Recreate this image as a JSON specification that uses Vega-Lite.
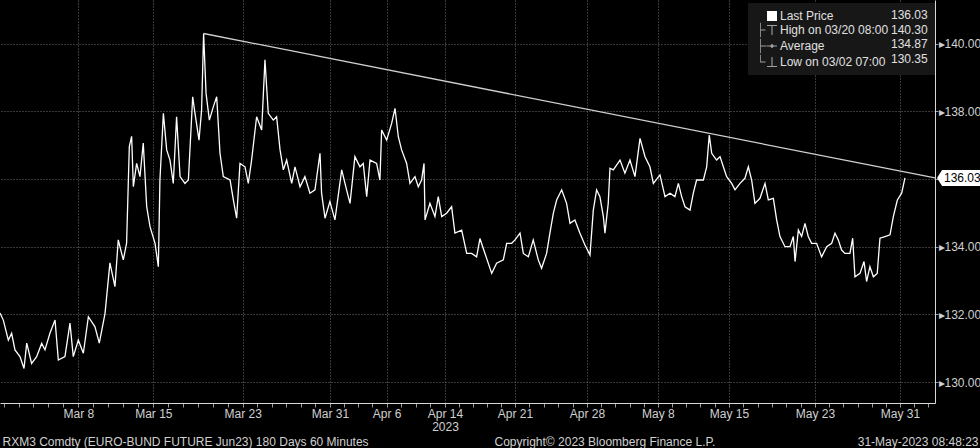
{
  "$schema": "https://vega.github.io/schema/vega-lite/v6.json",
  "width": 935,
  "height": 403,
  "autosize": {"type": "none"},
  "padding": {"left": 0, "top": 0, "right": 45, "bottom": 45},
  "background": "#000000",
  "config": {
    "view": {"stroke": null},
    "font": "Liberation Sans",
    "axis": {
      "labelFont": "Liberation Sans",
      "titleFont": "Liberation Sans",
      "titleFontWeight": "normal",
      "titleFontSize": 12,
      "titleColor": "#d0d0d0",
      "labelColor": "#d0d0d0",
      "labelFontSize": 12,
      "domainColor": "#d8d8d8",
      "tickColor": "#9a9a9a",
      "gridColor": "#707070",
      "gridDash": [1, 2]
    }
  },
  "datasets": {
    "price": [
      {"t":0,"v":132.04},{"t":0.23,"v":131.83},{"t":0.58,"v":131.24},{"t":0.81,"v":131.44},{"t":1.04,"v":130.95},
      {"t":1.39,"v":130.75},{"t":1.67,"v":130.4},{"t":1.86,"v":131.15},{"t":2.2,"v":130.55},{"t":2.55,"v":130.75},
      {"t":2.9,"v":131.14},{"t":3.13,"v":130.95},{"t":3.48,"v":131.45},{"t":3.83,"v":131.83},{"t":4.06,"v":130.65},
      {"t":4.52,"v":130.75},{"t":4.87,"v":131.74},{"t":5.1,"v":130.75},{"t":5.45,"v":131.24},{"t":5.8,"v":130.85},
      {"t":6.15,"v":131.93},{"t":6.61,"v":131.63},{"t":6.91,"v":131.15},{"t":7.31,"v":132.03},{"t":7.65,"v":133.52},
      {"t":8.0,"v":132.82},{"t":8.23,"v":134.2},{"t":8.58,"v":133.61},{"t":8.81,"v":134.1},{"t":9.0,"v":136.96},
      {"t":9.16,"v":137.26},{"t":9.28,"v":135.77},{"t":9.51,"v":136.46},{"t":9.74,"v":136.07},{"t":9.97,"v":137.06},
      {"t":10.21,"v":135.18},{"t":10.44,"v":134.59},{"t":10.79,"v":134.1},{"t":11.02,"v":133.41},{"t":11.13,"v":135.97},
      {"t":11.37,"v":137.94},{"t":11.6,"v":136.86},{"t":11.83,"v":136.56},{"t":12.06,"v":135.87},{"t":12.29,"v":137.84},
      {"t":12.53,"v":136.07},{"t":12.87,"v":135.87},{"t":13.11,"v":135.97},{"t":13.41,"v":138.43},{"t":13.57,"v":137.94},
      {"t":13.85,"v":137.15},{"t":14.03,"v":138.04},{"t":14.17,"v":140.3},{"t":14.34,"v":138.53},{"t":14.57,"v":137.74},
      {"t":14.85,"v":138.14},{"t":15.08,"v":138.43},{"t":15.31,"v":136.76},{"t":15.54,"v":136.07},{"t":16.01,"v":135.97},
      {"t":16.24,"v":135.38},{"t":16.47,"v":134.84},{"t":16.7,"v":136.46},{"t":17.05,"v":136.36},{"t":17.28,"v":135.87},
      {"t":17.51,"v":136.56},{"t":17.86,"v":137.84},{"t":18.21,"v":137.45},{"t":18.44,"v":139.52},{"t":18.67,"v":137.94},
      {"t":19.02,"v":137.74},{"t":19.25,"v":137.84},{"t":19.49,"v":136.86},{"t":19.72,"v":136.27},{"t":19.95,"v":136.56},
      {"t":20.3,"v":135.87},{"t":20.53,"v":136.36},{"t":20.88,"v":135.77},{"t":21.22,"v":136.07},{"t":21.57,"v":135.58},
      {"t":21.92,"v":135.68},{"t":22.27,"v":136.76},{"t":22.38,"v":135.58},{"t":22.62,"v":134.84},{"t":22.96,"v":135.33},
      {"t":23.31,"v":134.79},{"t":23.78,"v":136.27},{"t":24.12,"v":135.68},{"t":24.36,"v":135.28},{"t":24.7,"v":136.66},
      {"t":25.05,"v":136.36},{"t":25.28,"v":136.46},{"t":25.52,"v":135.48},{"t":25.75,"v":136.56},{"t":26.21,"v":136.46},
      {"t":26.44,"v":135.97},{"t":26.56,"v":137.45},{"t":26.91,"v":137.15},{"t":27.26,"v":137.65},{"t":27.49,"v":138.09},
      {"t":27.72,"v":137.25},{"t":27.95,"v":136.86},{"t":28.3,"v":136.46},{"t":28.53,"v":135.87},{"t":28.88,"v":136.07},
      {"t":29.11,"v":135.77},{"t":29.34,"v":135.97},{"t":29.51,"v":136.46},{"t":29.58,"v":134.79},{"t":29.92,"v":135.28},
      {"t":30.27,"v":134.89},{"t":30.5,"v":135.48},{"t":30.74,"v":134.89},{"t":31.08,"v":134.99},{"t":31.43,"v":135.18},
      {"t":31.66,"v":134.4},{"t":32.13,"v":134.49},{"t":32.48,"v":133.8},{"t":32.82,"v":133.8},{"t":33.17,"v":133.7},
      {"t":33.4,"v":134.24},{"t":33.75,"v":133.8},{"t":34.22,"v":133.21},{"t":34.56,"v":133.51},{"t":35.03,"v":133.61},
      {"t":35.26,"v":134.1},{"t":35.61,"v":134.1},{"t":35.84,"v":134.2},{"t":36.19,"v":134.4},{"t":36.42,"v":133.8},
      {"t":36.77,"v":133.7},{"t":37.11,"v":134.2},{"t":37.46,"v":133.61},{"t":37.69,"v":133.36},{"t":38.04,"v":133.8},
      {"t":38.27,"v":134.4},{"t":38.51,"v":134.99},{"t":38.74,"v":135.38},{"t":39.09,"v":135.68},{"t":39.43,"v":135.28},
      {"t":39.67,"v":134.69},{"t":40.01,"v":134.79},{"t":40.36,"v":134.4},{"t":40.71,"v":134.05},{"t":41.06,"v":133.75},
      {"t":41.29,"v":135.08},{"t":41.52,"v":135.68},{"t":41.75,"v":135.48},{"t":41.99,"v":134.89},{"t":42.1,"v":134.4},
      {"t":42.33,"v":135.28},{"t":42.45,"v":136.32},{"t":42.68,"v":136.27},{"t":43.15,"v":136.56},{"t":43.49,"v":136.17},
      {"t":43.84,"v":136.56},{"t":44.19,"v":136.07},{"t":44.54,"v":137.2},{"t":44.89,"v":136.66},{"t":45.23,"v":136.36},
      {"t":45.47,"v":135.87},{"t":45.93,"v":136.12},{"t":46.28,"v":135.48},{"t":46.63,"v":135.58},{"t":46.97,"v":135.48},
      {"t":47.21,"v":135.87},{"t":47.44,"v":135.48},{"t":47.67,"v":135.18},{"t":48.02,"v":135.08},{"t":48.25,"v":135.58},
      {"t":48.48,"v":135.97},{"t":48.95,"v":135.97},{"t":49.18,"v":136.36},{"t":49.36,"v":137.3},{"t":49.53,"v":136.76},
      {"t":49.87,"v":136.56},{"t":50.11,"v":136.66},{"t":50.34,"v":136.36},{"t":50.57,"v":136.07},{"t":50.92,"v":135.87},
      {"t":51.15,"v":135.68},{"t":51.5,"v":135.87},{"t":51.84,"v":136.02},{"t":52.08,"v":136.36},{"t":52.31,"v":135.97},
      {"t":52.54,"v":135.28},{"t":52.89,"v":135.43},{"t":53.24,"v":135.87},{"t":53.47,"v":135.38},{"t":53.82,"v":135.43},
      {"t":54.05,"v":134.79},{"t":54.28,"v":134.3},{"t":54.63,"v":134.0},{"t":54.98,"v":134.0},{"t":55.21,"v":134.3},
      {"t":55.33,"v":133.56},{"t":55.56,"v":134.49},{"t":55.79,"v":134.3},{"t":56.02,"v":134.69},{"t":56.25,"v":134.3},
      {"t":56.48,"v":134.1},{"t":56.83,"v":134.1},{"t":57.18,"v":133.7},{"t":57.53,"v":134.0},{"t":57.88,"v":134.1},
      {"t":58.11,"v":134.4},{"t":58.34,"v":134.2},{"t":58.57,"v":133.9},{"t":58.8,"v":133.8},{"t":59.15,"v":133.8},
      {"t":59.34,"v":134.25},{"t":59.5,"v":133.11},{"t":59.85,"v":133.21},{"t":60.13,"v":133.56},{"t":60.31,"v":132.97},
      {"t":60.54,"v":133.41},{"t":60.78,"v":133.11},{"t":61.05,"v":133.21},{"t":61.24,"v":134.25},{"t":61.59,"v":134.3},
      {"t":61.94,"v":134.35},{"t":62.17,"v":134.89},{"t":62.45,"v":135.38},{"t":62.75,"v":135.58},{"t":62.98,"v":136.03}
    ],
    "trend": [{"t": 14.17, "v": 140.3}, {"t": 65.07, "v": 136.03}],
    "last": [{"t": 65.07, "v": 136.03, "label": "136.03"}],
    "legend": [
      {"entry": "Last Price", "val": "136.03"},
      {"entry": "High on 03/20 08:00", "val": "140.30"},
      {"entry": "Average", "val": "134.87"},
      {"entry": "Low on 03/02 07:00", "val": "130.35"}
    ]
  },
  "resolve": {"axis": {"x": "independent"}},
  "layer": [
    {
      "data": {"name": "price"},
      "mark": {"type": "line", "color": "#ffffff", "strokeWidth": 1.3},
      "encoding": {
        "x": {
          "field": "t", "type": "quantitative",
          "scale": {"domain": [0, 65.07], "nice": false, "zero": false},
          "axis": {
            "orient": "bottom",
            "values": [0.25,1.29,2.33,3.37,4.41,5.45,6.49,7.54,8.58,9.63,10.67,11.71,12.74,13.78,14.82,15.85,16.89,17.9,18.91,19.92,20.94,21.95,22.96,23.95,24.93,25.92,26.91,27.93,28.94,29.96,30.97,31.94,32.92,33.89,34.87,35.84,36.84,37.84,38.85,39.85,40.85,41.84,42.83,43.81,44.8,45.79,46.78,47.77,48.75,49.74,50.73,51.73,52.73,53.73,54.72,55.72,56.72,57.71,58.69,59.68,60.66,61.65,62.63,63.62,64.6],
            "labelExpr": "indexof([5.45,10.67,16.89,22.96,26.91,30.97,35.84,40.85,45.79,50.73,56.72,62.63], datum.value) >= 0 ? ['Mar 8','Mar 15','Mar 23','Mar 31','Apr 6',['Apr 14','2023'],'Apr 21','Apr 28','May 8','May 15','May 23','May 31'][indexof([5.45,10.67,16.89,22.96,26.91,30.97,35.84,40.85,45.79,50.73,56.72,62.63], datum.value)] : ''",
            "grid": true,
            "gridOpacity": {"condition": {"test": "indexof([5.45,10.67,16.89,22.96,26.91,30.97,35.84,40.85,45.79,50.73,56.72,62.63], datum.value) >= 0", "value": 1}, "value": 0},
            "tickSize": 4,
            "labelPadding": 1,
            "labelFlush": false,
            "labelOverlap": false,
            "labelBound": false,
            "labelLineHeight": 13,
            "title": "RXM3 Comdty (EURO-BUND FUTURE  Jun23) 180 Days 60 Minutes",
            "titleX": 2,
            "titleY": 42,
            "titleAlign": "left",
            "titleBaseline": "alphabetic"
          }
        },
        "y": {
          "field": "v", "type": "quantitative",
          "scale": {"domain": [129.38, 141.29], "nice": false, "zero": false},
          "axis": {
            "orient": "right",
            "values": [130,131,132,133,134,135,136,137,138,139,140,141],
            "labelExpr": "datum.value % 2 == 0 && datum.value != 136 ? '▸' + format(datum.value, '.2f') : ''",
            "grid": true,
            "gridOpacity": {"condition": {"test": "datum.value % 2 == 0", "value": 1}, "value": 0},
            "tickSize": 3,
            "labelPadding": 0,
            "labelFontSize": 12,
            "title": null
          }
        }
      }
    },
    {
      "data": {"name": "trend"},
      "mark": {"type": "line", "color": "#d0d0d0", "strokeWidth": 1.3},
      "encoding": {
        "x": {
          "field": "t", "type": "quantitative",
          "axis": {
            "orient": "bottom", "domain": false, "ticks": false, "labels": false, "grid": false,
            "title": "Copyright© 2023 Bloomberg Finance L.P.",
            "titleX": 494, "titleY": 42, "titleAlign": "left", "titleBaseline": "alphabetic"
          }
        },
        "y": {"field": "v", "type": "quantitative"}
      }
    },
    {
      "data": {"name": "last"},
      "mark": {"type": "point", "shape": "M0,0L0.23,-0.36H2V0.36H0.23Z", "size": 1936, "filled": true, "color": "#ffffff", "opacity": 1, "xOffset": 2},
      "encoding": {
        "x": {
          "field": "t", "type": "quantitative",
          "axis": {
            "orient": "bottom", "domain": false, "ticks": false, "labels": false, "grid": false,
            "title": "31-May-2023 08:48:23",
            "titleX": 978, "titleY": 42, "titleAlign": "right", "titleBaseline": "alphabetic"
          }
        },
        "y": {"field": "v", "type": "quantitative"}
      }
    },
    {
      "data": {"name": "last"},
      "mark": {"type": "text", "align": "left", "baseline": "middle", "dx": 9, "color": "#000000", "fontSize": 12, "font": "Liberation Sans"},
      "encoding": {
        "x": {"field": "t", "type": "quantitative", "axis": null},
        "y": {"field": "v", "type": "quantitative"},
        "text": {"field": "label"}
      }
    },
    {
      "data": {"name": "legend"},
      "mark": {"type": "point", "opacity": 0, "filled": true},
      "encoding": {
        "shape": {
          "field": "entry", "type": "nominal",
          "scale": {
            "domain": ["Last Price", "High on 03/20 08:00", "Average", "Low on 03/02 07:00"],
            "range": [
              "square",
              "M-1,-1H1V-0.78H0.11V1H-0.11V-0.78H-1Z M-2.38,-1.47H-2.22V1.47H-2.38Z M-2.22,-0.08H-1.3V0.08H-2.22Z",
              "M-1,-0.1H1V0.1H-1Z M-0.45,0L0,-0.45L0.45,0L0,0.45Z M-2.38,-1.47H-2.22V1.47H-2.38Z M-2.22,-0.08H-1.1V0.08H-2.22Z",
              "M-0.11,-1H0.11V0.78H1V1H-1V0.78H-0.11Z M-2.38,-1.47H-2.22V0.08H-2.38Z M-2.22,-0.08H-1.3V0.08H-2.22Z"
            ]
          },
          "legend": {
            "title": ["136.03", "140.30", "134.87", "130.35"],
            "titleOrient": "right", "titlePadding": 3, "titleAnchor": "start",
            "titleAlign": "left", "titleBaseline": "top", "titleLineHeight": 14.7,
            "titleFont": "Liberation Sans", "titleFontSize": 12, "titleFontWeight": "normal", "titleColor": "#e0e0e0",
            "orient": "none", "legendX": 748, "legendY": 3, "padding": 7,
            "rowPadding": 0,
            "fillColor": "#171717", "symbolSize": 100, "symbolOffset": 11, "labelOffset": 2,
            "labelColor": "#e0e0e0", "labelFontSize": 12, "labelFont": "Liberation Sans",
            "labelLimit": 400, "symbolOpacity": 1, "symbolStrokeWidth": 0
          }
        },
        "color": {
          "field": "entry", "type": "nominal",
          "scale": {
            "domain": ["Last Price", "High on 03/20 08:00", "Average", "Low on 03/02 07:00"],
            "range": ["#ffffff", "#a0a0a0", "#a0a0a0", "#a0a0a0"]
          }
        }
      }
    }
  ]
}
